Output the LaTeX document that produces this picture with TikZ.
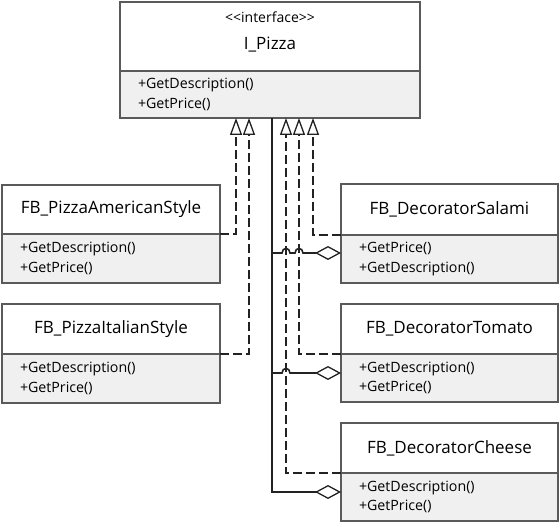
\documentclass[tikz,border=0pt]{standalone}
\usepackage{fontspec}
\setmainfont{Open Sans}
\usetikzlibrary{arrows.meta,calc}
\definecolor{boxgray}{HTML}{5A5A5A}
\definecolor{methfill}{HTML}{F0F0F0}
\definecolor{linecol}{HTML}{222222}
\newcommand\hopat[2]{-- ($(#1 |- #2)+(-4,0)$) .. controls ($(#1 |- #2)+(-4,-6)$) and ($(#1 |- #2)+(4,-6)$) .. ($(#1 |- #2)+(4,0)$)}
\begin{document}
\begin{tikzpicture}[x=1pt,y=-1pt,
  comp/.style={draw=boxgray, line width=1.2pt, anchor=north west, inner ysep=0pt, outer sep=0pt},
  titlebox/.style={comp, fill=white, inner xsep=0pt, font=\fontsize{17}{20}\selectfont},
  methbox/.style={comp, fill=methfill, align=left, inner xsep=18pt, font=\fontsize{14.2}{19.7}\selectfont},
  realize/.style={line width=1.5pt, draw=linecol, dash pattern=on 9pt off 4pt,
    -{Triangle[open, length=17pt, width=12pt, line width=1.3pt]}},
  aggr/.style={line width=1.6pt, draw=linecol,
    -{Diamond[open, length=26pt, width=14pt, line width=1.3pt]}},
]
\useasboundingbox[fill=white] (0,0) rectangle (560,526);

% interface
\node[titlebox, minimum width=300pt, minimum height=69pt] (ipt) at (120,2) {};
\node[font=\fontsize{14}{16}\selectfont, inner sep=0pt] (ster) at (270,17) {<\kern0pt<interface>\kern0pt>};
\node[font=\fontsize{17}{20}\selectfont, inner sep=0pt] (ipn) at (270,45) {I\_Pizza};
\node[methbox, minimum height=47pt, text width=264pt] (ipm) at (120,71) {+GetDescription()\\+GetPrice()};

% left classes
\node[titlebox, minimum width=218pt, minimum height=49pt] (amt) at (2,185) {FB\_PizzaAmericanStyle};
\node[methbox, minimum height=49pt, text width=182pt] (amm) at (2,234) {+GetDescription()\\+GetPrice()};
\node[titlebox, minimum width=218pt, minimum height=50pt] (itt) at (2,304) {FB\_PizzaItalianStyle};
\node[methbox, minimum height=49pt, text width=182pt] (itm) at (2,354) {+GetDescription()\\+GetPrice()};

% right classes
\node[titlebox, minimum width=217pt, minimum height=51pt] (sat) at (341,184) {FB\_DecoratorSalami};
\node[methbox, minimum height=48pt, text width=181pt] (sam) at (341,235) {+GetPrice()\\+GetDescription()};
\node[titlebox, minimum width=217pt, minimum height=50pt] (tot) at (341,304) {FB\_DecoratorTomato};
\node[methbox, minimum height=48pt, text width=181pt] (tom) at (341,354) {+GetDescription()\\+GetPrice()};
\node[titlebox, minimum width=217pt, minimum height=50pt] (cht) at (341,423) {FB\_DecoratorCheese};
\node[methbox, minimum height=48pt, text width=181pt] (chm) at (341,473) {+GetDescription()\\+GetPrice()};

% arrow tip points on the interface
\coordinate (g1) at ($(ipm.south west)+(116,0)$);
\coordinate (g2) at ($(ipm.south west)+(129,0)$);
\coordinate (g3) at ($(ipm.south west)+(166,0)$);
\coordinate (g4) at ($(ipm.south west)+(179,0)$);
\coordinate (g5) at ($(ipm.south west)+(193,0)$);
\coordinate (tr) at ($(ipm.south west)+(152,0)$);

% realizations
\draw[realize] (amm.north east) -| (g1);
\draw[realize] (itm.north east) -| (g2);
\draw[realize] (sam.north west) -| (g5);
\draw[realize] (tom.north west) -| (g4);
\draw[realize] (chm.north west) -| (g3);

% aggregations
\coordinate (sy) at ($(sam.west)+(0,-6)$);
\coordinate (ty) at ($(tom.west)+(0,-5)$);
\coordinate (cy) at ($(chm.west)+(0,-5)$);
\draw[aggr] (tr) |- (cy);
\draw[aggr] (tr |- sy) \hopat{g3}{sy} \hopat{g4}{sy} -- (sy);
\draw[aggr] (tr |- ty) \hopat{g3}{ty} -- (ty);
\end{tikzpicture}
\end{document}
